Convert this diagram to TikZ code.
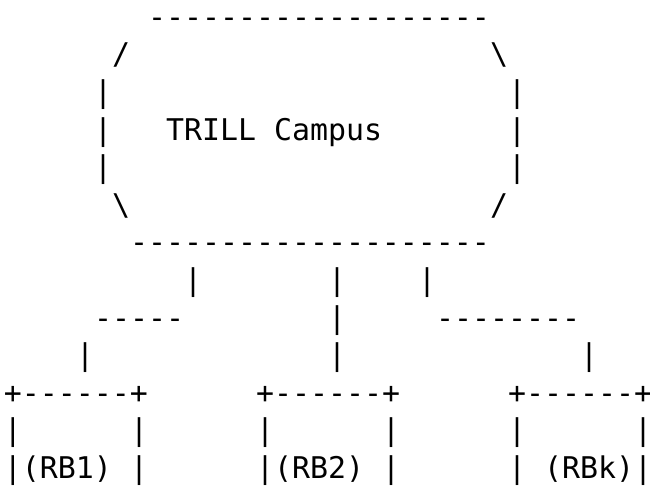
\documentclass[tikz,border=0pt]{standalone}
\usepackage{fontspec}
\newfontfamily\mono{DejaVu Sans Mono}
\newcommand\dashes[1]{\foreach\k in {1,...,#1}{-\kern0pt}}
\begin{document}
\begin{tikzpicture}[x=1pt,y=-1pt,
  txt/.style={anchor=base west,inner sep=0pt,outer sep=0pt,font=\mono\fontsize{29.9}{36}\selectfont}]
\useasboundingbox (0,0) rectangle (650,485);
\def\cw{18}
\def\lh{37.6}
\def\bz{27.2}
\newcommand\glyphat[4]{\node[txt] (#1) at ({4+#2*\cw},{\bz+#3*\lh}) {#4};}
% cloud
\glyphat{top}{8}{0}{\dashes{19}}
\glyphat{tl}{6}{1}{/}
\glyphat{tr}{27}{1}{\textbackslash}
\glyphat{la}{5}{2}{|}
\glyphat{ra}{28}{2}{|}
\glyphat{lb}{5}{3}{|}
\glyphat{lab}{9}{3}{TRILL Campus}
\glyphat{rb}{28}{3}{|}
\glyphat{lc}{5}{4}{|}
\glyphat{rc}{28}{4}{|}
\glyphat{bl}{6}{5}{\textbackslash}
\glyphat{br}{27}{5}{/}
\glyphat{bot}{7}{6}{\dashes{20}}
% links
\glyphat{v1}{10}{7}{|}
\glyphat{v2}{18}{7}{|}
\glyphat{v3}{23}{7}{|}
\glyphat{h1}{5}{8}{\dashes{5}}
\glyphat{v2b}{18}{8}{|}
\glyphat{h3}{24}{8}{\dashes{8}}
\glyphat{w1}{4}{9}{|}
\glyphat{w2}{18}{9}{|}
\glyphat{w3}{32}{9}{|}
% boxes
\glyphat{b1t}{0}{10}{+\dashes{6}+}
\glyphat{b2t}{14}{10}{+\dashes{6}+}
\glyphat{b3t}{28}{10}{+\dashes{6}+}
\glyphat{b1l}{0}{11}{|}
\glyphat{b1r}{7}{11}{|}
\glyphat{b2l}{14}{11}{|}
\glyphat{b2r}{21}{11}{|}
\glyphat{b3l}{28}{11}{|}
\glyphat{b3r}{35}{11}{|}
\glyphat{rb1}{0}{12}{|(RB1)}
\glyphat{b1rr}{7}{12}{|}
\glyphat{rb2}{14}{12}{|(RB2)}
\glyphat{b2rr}{21}{12}{|}
\glyphat{b3ll}{28}{12}{|}
\glyphat{rbk}{30}{12}{(RBk)|}
\end{tikzpicture}
\end{document}
